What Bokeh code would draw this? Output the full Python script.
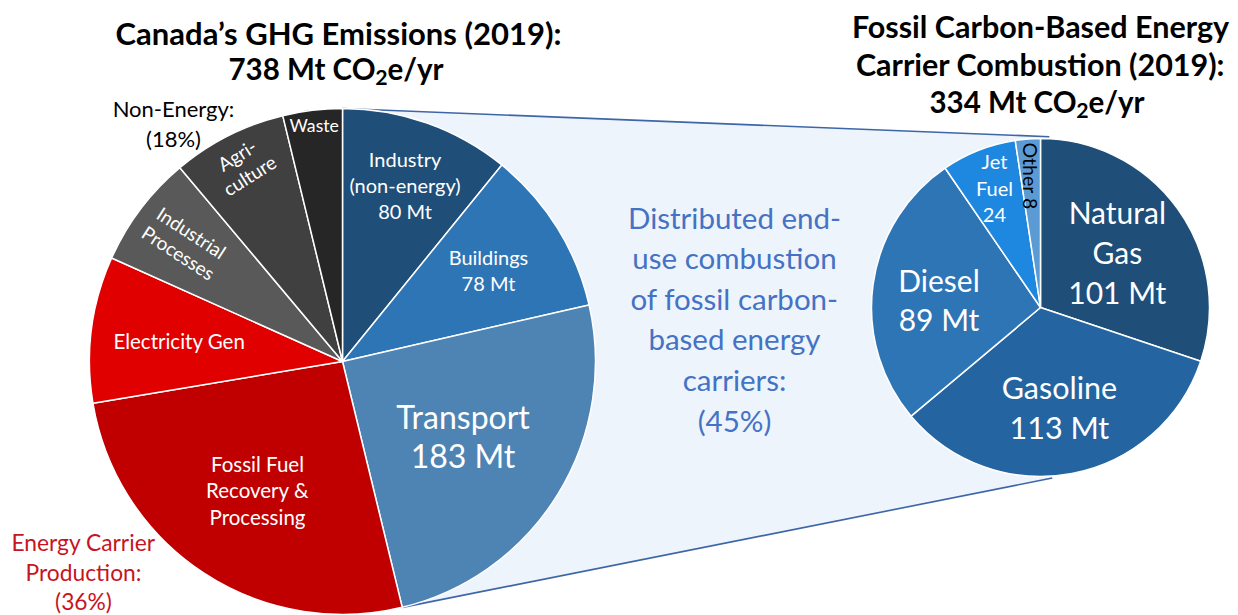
import numpy as np
from bokeh.plotting import figure
from bokeh.models import Range1d
from bokeh.embed import file_html
from bokeh.resources import INLINE
from bokeh.core.properties import value

# ---------------- data ----------------
left_categories = ["Industry (non-energy)", "Buildings", "Transport",
                   "Fossil Fuel Recovery & Processing", "Electricity Gen",
                   "Industrial Processes", "Agriculture", "Waste"]
left_values = [80, 78, 183, 193, 69, 53, 54, 28]
left_labels = [["Industry", "(non-energy)", "80 Mt"], ["Buildings", "78 Mt"],
               ["Transport", "183 Mt"], ["Fossil Fuel", "Recovery &", "Processing"],
               ["Electricity Gen"], ["Industrial", "Processes"], ["Agri-", "culture"],
               ["Waste"]]

right_categories = ["Natural Gas", "Gasoline", "Diesel", "Jet Fuel", "Other"]
right_values = [101, 113, 89, 24, 8]
right_labels = [["Natural", "Gas", "101 Mt"], ["Gasoline", "113 Mt"],
                ["Diesel", "89 Mt"], ["Jet", "Fuel", "24"], ["Other 8"]]

left_title = ["Canada\u2019s GHG Emissions (2019):"]
left_total = ["738 Mt CO", "2", "e/yr"]
right_title = ["Fossil Carbon-Based Energy", "Carrier Combustion (2019):"]
right_total = ["334 Mt CO", "2", "e/yr"]
center_text = ["Distributed end-", "use combustion", "of fossil carbon-",
               "based energy", "carriers:", "(45%)"]
non_energy_text = ["Non-Energy:", "(18%)"]
production_text = ["Energy Carrier", "Production:", "(36%)"]

# ---------------- styles / layout ----------------
FONT = "Lato"
left_colors = ["#1f4e79", "#2e75b6", "#4e84b4", "#c00000", "#e00000",
               "#595959", "#404040", "#262626"]
right_colors = ["#1f4e79", "#2465a1", "#2e75b6", "#1e88e0", "#5b9bd5"]

# label style: (font px, radial fraction, rotation deg, line spacing, color, dx, dy)
left_lab_style = [(20, .74, 0, 26, "white", 0, 0), (20, .68, 0, 26, "white", 0, 0),
                  (32, .56, 0, 39, "white", 0, 0), (20.5, .61, 0, 26.5, "white", 0, 0),
                  (20.5, .65, 0, 26, "white", 0, 0), (19, .78, -33, 24, "white", 0, 0),
                  (19, .87, 32, 24, "white", 0, 0), (17.7, .94, 0, 20, "white", 0, 0)]
right_lab_style = [(30, .56, 0, 40, "white", 0, 0), (30.5, .60, 0, 40, "white", 0, 0),
                   (30, .60, 0, 39, "white", -1, -6), (20, .76, 0, 27, "white", 1, 0),
                   (19.5, .78, -90, 20, "black", 0, 0)]

W, H = 1238, 615
def Y(yref):  # reference-page pixel row -> data y
    return 615 - yref

LCX, LCY, LR = 342, Y(361), 253
RCX, RCY, RR = 1040, Y(307), 169

p = figure(width=W, height=H, output_backend="svg", toolbar_location=None,
           x_range=Range1d(0, W), y_range=Range1d(615 - H, 615),
           min_border=0, outline_line_color=None, background_fill_color="white")
p.axis.visible = False
p.grid.visible = False


def pie_angles(vals):
    v = np.array(vals, dtype=float)
    frac = v / v.sum() * 2 * np.pi
    cum = np.concatenate([[0], np.cumsum(frac)])
    start = np.pi / 2 - cum[1:]
    end = np.pi / 2 - cum[:-1]
    return start, end


ls, le = pie_angles(left_values)
rs, re_ = pie_angles(right_values)

# connector (zoom) region: from left pie energy-use wedges to right pie
t_end = ls[2]  # end of transport wedge
x_bl = LCX + LR * np.cos(t_end); y_bl = LCY + LR * np.sin(t_end)
x_tr = RCX + RR * np.cos(np.radians(87)); y_tr = RCY + RR * np.sin(np.radians(87)) + 2
x_br = RCX + RR * np.cos(np.radians(-86)); y_br = RCY + RR * np.sin(np.radians(-86)) - 2
p.patch([LCX, x_tr, x_br, x_bl, LCX], [LCY + LR, y_tr, y_br, y_bl, LCY],
        fill_color="#eef4fb", line_color=None)
p.line([LCX, x_tr], [LCY + LR, y_tr], line_color="#3d66a8", line_width=1.6)
p.line([x_bl, x_br], [y_bl, y_br], line_color="#3d66a8", line_width=1.6)

# pies
p.wedge(x=[LCX] * len(left_values), y=[LCY] * len(left_values), radius=LR,
        start_angle=list(ls), end_angle=list(le), direction="anticlock",
        fill_color=left_colors, line_color="white", line_width=1.5)
p.wedge(x=[RCX] * len(right_values), y=[RCY] * len(right_values), radius=RR,
        start_angle=list(rs), end_angle=list(re_), direction="anticlock",
        fill_color=right_colors, line_color="white", line_width=1.5)


def put_text(x, y, t, size, color, angle=0.0, bold=False, align="center"):
    p.text(x=[x], y=[y], text=[t], angle=angle, text_align=align,
           text_baseline="middle", text_font=value(FONT),
           text_font_size=f"{size}px", text_color=color,
           text_font_style="bold" if bold else "normal")


def put_lines(x, y, lines, size, spacing, color, angle_deg=0, bold=False):
    th = np.radians(angle_deg)
    dxn, dyn = np.sin(th), -np.cos(th)  # "down" direction of the text
    n = len(lines)
    for i, t in enumerate(lines):
        k = i - (n - 1) / 2
        put_text(x + k * spacing * dxn, y + k * spacing * dyn, t, size, color,
                 th, bold)


def put_total(xsub, y, parts, size):
    # "NNN Mt CO" + subscript "2" + "e/yr"
    put_text(xsub - 6, y, parts[0], size, "black", bold=True, align="right")
    put_text(xsub, y - 9, parts[1], size * 0.72, "black", bold=True)
    put_text(xsub + 6, y, parts[2], size, "black", bold=True, align="left")


def label_pie(cx, cy, r, starts, ends, labels, styles):
    for s, e, lab, st in zip(starts, ends, labels, styles):
        size, fr, ang, sp, col, dx, dy = st
        mid = (s + e) / 2
        x = cx + fr * r * np.cos(mid) + dx
        y = cy + fr * r * np.sin(mid) + dy
        put_lines(x, y, lab, size, sp, col, ang)


label_pie(LCX, LCY, LR, ls, le, left_labels, left_lab_style)
label_pie(RCX, RCY, RR, rs, re_, right_labels, right_lab_style)

# titles and annotations
put_lines(338, Y(32), left_title, 31, 36, "black", bold=True)
put_total(381, Y(68), left_total, 29.5)
put_lines(1040, Y(44), right_title, 30.5, 38, "black", bold=True)
put_total(1082, Y(101), right_total, 29.5)
put_lines(734, Y(318), center_text, 29.5, 40.6, "#4472c4")
put_lines(173, Y(123), non_energy_text, 22, 30, "black")
put_lines(83, Y(571), production_text, 22.8, 29.5, "#c8141e")

open("out.html", "w").write(file_html(p, INLINE))
